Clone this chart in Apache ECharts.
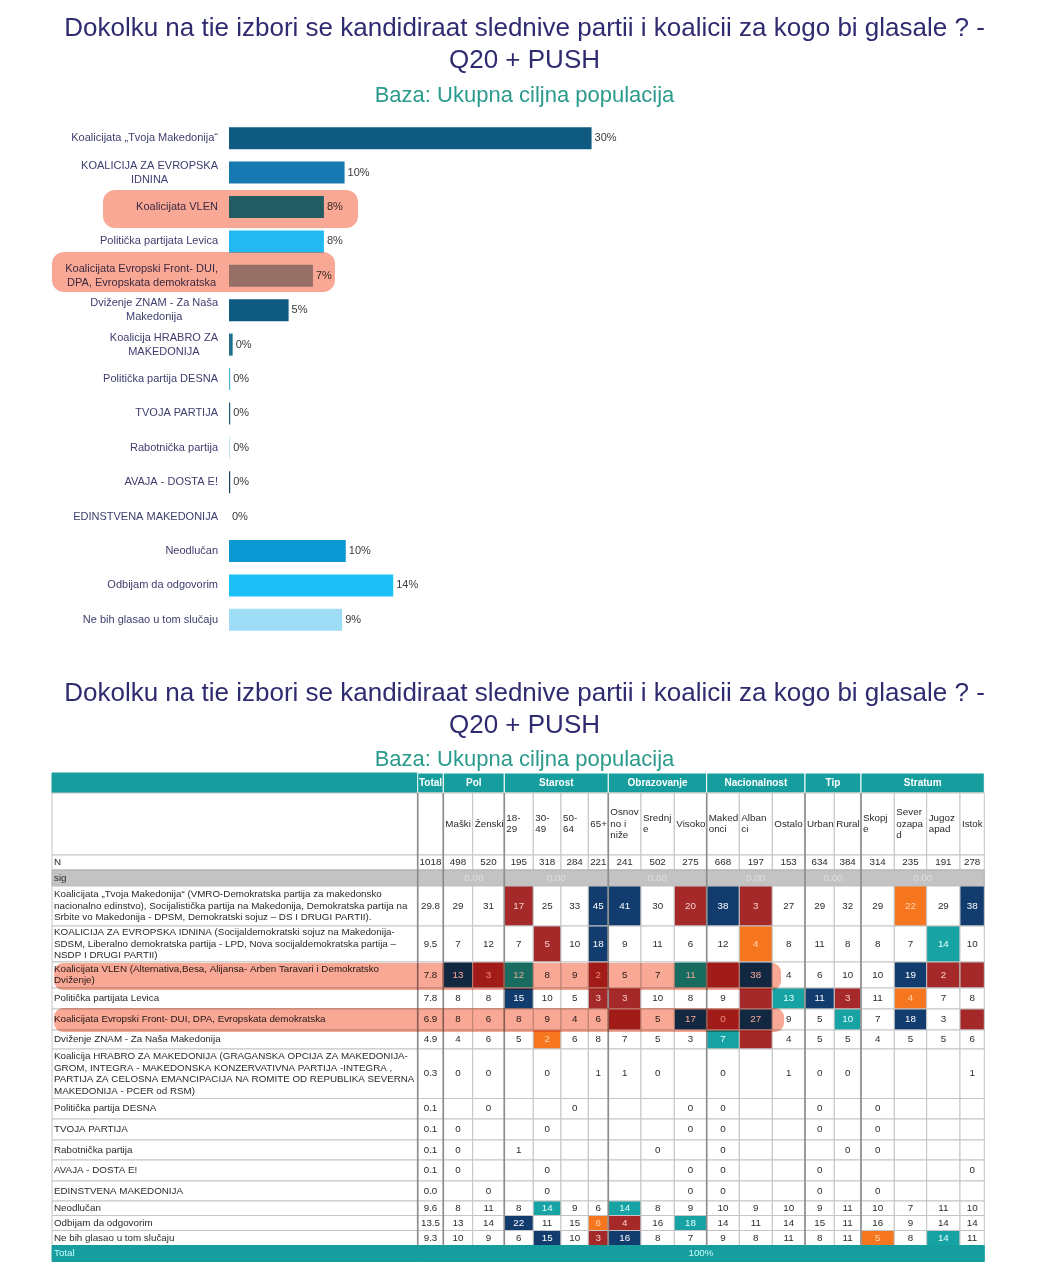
<!DOCTYPE html>
<html><head><meta charset="utf-8">
<script src="https://cdn.jsdelivr.net/npm/echarts@6/dist/echarts.min.js"></script>
<style>html,body{margin:0;padding:0;background:#fff}#c{width:1039px;height:1280px}</style>
</head><body><div id="c"></div>
<script>
// ---------- DATA ----------
const barCategories = ['Koalicijata \u201eTvoja Makedonija\u201c', 'KOALICIJA ZA EVROPSKA\nIDNINA', 'Koalicijata VLEN', 'Politička partijata Levica',
  'Koalicijata Evropski Front- DUI,\nDPA, Evropskata demokratska', 'Dviženje ZNAM - Za Naša\nMakedonija', 'Koalicija HRABRO ZA\nMAKEDONIJA',
  'Politička partija DESNA', 'TVOJA PARTIJA', 'Rabotnička partija', 'AVAJA - DOSTA E!', 'EDINSTVENA MAKEDONIJA',
  'Neodlučan', 'Odbijam da odgovorim', 'Ne bih glasao u tom slučaju'];
const totals = [29.8, 9.5, 7.8, 7.8, 6.9, 4.9, 0.3, 0.1, 0.1, 0.1, 0.1, 0.0, 9.6, 13.5, 9.3];

const rowLabels = [
  'Koalicijata \u201eTvoja Makedonija\u201c (VMRO-Demokratska partija za makedonsko\nnacionalno edinstvo), Socijalistička partija na Makedonija, Demokratska partija na\nSrbite vo Makedonija - DPSM, Demokratski sojuz \u2013 DS I DRUGI PARTII).',
  'KOALICIJA ZA EVROPSKA IDNINA (Socijaldemokratski sojuz na Makedonija-\nSDSM, Liberalno demokratska partija - LPD, Nova socijaldemokratska partija \u2013\nNSDP I DRUGI PARTII)',
  'Koalicijata VLEN (Alternativa,Besa, Alijansa- Arben Taravari i Demokratsko\nDviženje)',
  'Politička partijata Levica',
  'Koalicijata Evropski Front- DUI, DPA, Evropskata demokratska',
  'Dviženje ZNAM - Za Naša Makedonija',
  'Koalicija HRABRO ZA MAKEDONIJA (GRAGANSKA OPCIJA ZA MAKEDONIJA-\nGROM, INTEGRA - MAKEDONSKA KONZERVATIVNA PARTIJA -INTEGRA ,\nPARTIJA ZA CELOSNA EMANCIPACIJA NA ROMITE OD REPUBLIKA SEVERNA\nMAKEDONIJA - PCER od RSM)',
  'Politička partija DESNA', 'TVOJA PARTIJA', 'Rabotnička partija', 'AVAJA - DOSTA E!', 'EDINSTVENA MAKEDONIJA',
  'Neodlučan', 'Odbijam da odgovorim', 'Ne bih glasao u tom slučaju'];

const columnNames = ['Maški', 'Ženski', '18-\n29', '30-\n49', '50-\n64', '65+', 'Osnov\nno i\nniže', 'Srednj\ne', 'Visoko',
  'Maked\nonci', 'Alban\nci', 'Ostalo', 'Urban', 'Rural', 'Skopj\ne', 'Sever\nozapa\nd', 'Jugoz\napad', 'Istok'];
const groupNames = ['Pol', 'Starost', 'Obrazovanje', 'Nacionalnost', 'Tip', 'Stratum'];
const groupSizes = [2, 4, 3, 3, 2, 4];
const sampleN = [1018, 498, 520, 195, 318, 284, 221, 241, 502, 275, 668, 197, 153, 634, 384, 314, 235, 191, 278];
const sigValue = '0.00';
const totalLabel = '100%';

const _ = null;
const rowValues = [
  [29, 31, 17, 25, 33, 45, 41, 30, 20, 38, 3, 27, 29, 32, 29, 22, 29, 38],
  [7, 12, 7, 5, 10, 18, 9, 11, 6, 12, 4, 8, 11, 8, 8, 7, 14, 10],
  [13, 3, 12, 8, 9, 2, 5, 7, 11, _, 38, 4, 6, 10, 10, 19, 2, _],
  [8, 8, 15, 10, 5, 3, 3, 10, 8, 9, _, 13, 11, 3, 11, 4, 7, 8],
  [8, 6, 8, 9, 4, 6, _, 5, 17, 0, 27, 9, 5, 10, 7, 18, 3, _],
  [4, 6, 5, 2, 6, 8, 7, 5, 3, 7, _, 4, 5, 5, 4, 5, 5, 6],
  [0, 0, _, 0, _, 1, 1, 0, _, 0, _, 1, 0, 0, _, _, _, 1],
  [_, 0, _, _, 0, _, _, _, 0, 0, _, _, 0, _, 0, _, _, _],
  [0, _, _, 0, _, _, _, _, 0, 0, _, _, 0, _, 0, _, _, _],
  [0, _, 1, _, _, _, _, 0, _, 0, _, _, _, 0, 0, _, _, _],
  [0, _, _, 0, _, _, _, _, 0, 0, _, _, 0, _, _, _, _, 0],
  [_, 0, _, 0, _, _, _, _, 0, 0, _, _, 0, _, 0, _, _, _],
  [8, 11, 8, 14, 9, 6, 14, 8, 9, 10, 9, 10, 9, 11, 10, 7, 11, 10],
  [13, 14, 22, 11, 15, 6, 4, 16, 18, 14, 11, 14, 15, 11, 16, 9, 14, 14],
  [10, 9, 6, 15, 10, 3, 16, 8, 7, 9, 8, 11, 8, 11, 5, 8, 14, 11]];
// significance marks: n = significantly higher (dark), r = lower, o = lower (orange), t = higher (teal)
const rowSig = [
  '..r..nn.rnr....o.n',
  '...r.n....o.....t.',
  'nrt..r..trn....nrr',
  '..n..rr...rtnr.o..',
  '......r.nrn..t.n.r',
  '...o.....tr.......',
  '', '', '', '', '', '',
  '...t..t...........',
  '..n..or.t.........',
  '...n.rn.......o.t.'];

// ---------- LAYOUT / STYLE ----------
const FONT = '"Liberation Sans", Arial, sans-serif';
const barColors = ['#0e5a80', '#1779b2', '#238aa8', '#22b8f2', '#9aa8b0', '#0e5a80', '#1e6f8c', '#4fb7dc',
  '#1a5c75', '#c8e8f5', '#17405e', '#ffffff', '#0a97d2', '#1cc0f7', '#9fdcf6'];
const colEdges = [52, 417.7, 443.3, 472.7, 504.3, 533.3, 561, 588.3, 608.3, 641, 674.3, 706.7, 739.3, 772.3, 805, 834.3, 861, 894.3, 926.7, 960, 984.3];
const rowEdges = [773, 793, 855, 870, 886, 926, 962, 988, 1009, 1030, 1049, 1098.5, 1119, 1140, 1160, 1181, 1201, 1215.5, 1230.5, 1245.5, 1261.5];
const sigFill = { n: '#123c6e', r: '#a6292a', o: '#f5761f', t: '#17a3a3' };
const sigText = { n: '#ffffff', r: '#f6cccc', o: '#ffd6ad', t: '#e4ffff' };
const TEAL = '#169e9e';
const CELL_FONT = 9.8;

// ---------- BUILD TABLE CELLS ----------
const cells = [];
function addCell(c0, c1, r, o) {
  cells.push(Object.assign({ x0: colEdges[c0], x1: colEdges[c1], y0: rowEdges[r], y1: rowEdges[r + 1],
    fill: '#ffffff', stroke: '#c4c4c4', text: '', color: '#2a2a2a', align: 'center', size: CELL_FONT, weight: 'normal' }, o));
}
addCell(0, 1, 0, { fill: TEAL, stroke: TEAL });
addCell(1, 2, 0, { fill: TEAL, stroke: '#ffffff', text: 'Total', color: '#ffffff', weight: 'bold', size: 10 });
let gc = 2;
groupNames.forEach((g, i) => { addCell(gc, gc + groupSizes[i], 0, { fill: TEAL, stroke: '#ffffff', text: g, color: '#ffffff', weight: 'bold', size: 10 }); gc += groupSizes[i]; });
addCell(0, 1, 1, {}); addCell(1, 2, 1, {});
columnNames.forEach((n, i) => addCell(i + 2, i + 3, 1, { text: n, align: 'left' }));
addCell(0, 1, 2, { text: 'N', align: 'left' });
sampleN.forEach((v, i) => addCell(i + 1, i + 2, 2, { text: String(v) }));
addCell(0, 1, 3, { text: 'sig', align: 'left', fill: '#c3c3c3', stroke: '#b0b0b0' });
addCell(1, 2, 3, { fill: '#c3c3c3', stroke: '#b0b0b0' });
gc = 2;
groupSizes.forEach(s => { addCell(gc, gc + s, 3, { fill: '#c3c3c3', stroke: '#b0b0b0', text: sigValue, color: '#dedede' }); gc += s; });
rowLabels.forEach((lab, r) => {
  addCell(0, 1, 4 + r, { text: lab, align: 'left' });
  addCell(1, 2, 4 + r, { text: totals[r].toFixed(1) });
  rowValues[r].forEach((v, i) => {
    const s = rowSig[r][i];
    const o = { text: v == null ? '' : String(v) };
    if (s && s !== '.') { o.fill = sigFill[s]; o.color = sigText[s]; }
    addCell(i + 2, i + 3, 4 + r, o);
  });
});
addCell(0, 1, 19, { fill: TEAL, stroke: TEAL, text: 'Total', align: 'left', color: '#c8ffff' });
addCell(1, 20, 19, { fill: TEAL, stroke: TEAL, text: totalLabel, color: '#c8ffff' });

const groupLines = [1, 2, 4, 8, 11, 14, 16];

function renderCell(params, api) {
  const c = cells[params.dataIndex];
  const p0 = api.coord([c.x0, c.y0]), p1 = api.coord([c.x1, c.y1]);
  const x = p0[0], y = p0[1], w = p1[0] - p0[0], h = p1[1] - p0[1];
  const ch = [{ type: 'rect', shape: { x: x, y: y, width: w, height: h }, style: { fill: c.fill, stroke: c.stroke, lineWidth: 1 } }];
  if (c.text !== '') {
    ch.push({ type: 'text', style: {
      x: c.align === 'left' ? x + 2 : x + w / 2, y: y + h / 2, text: c.text,
      fill: c.color, fontSize: c.size, fontFamily: FONT, fontWeight: c.weight, lineHeight: 11.5,
      align: c.align, verticalAlign: 'middle', textAlign: c.align, textVerticalAlign: 'middle' } });
  }
  return { type: 'group', children: ch };
}
function renderLine(params, api) {
  const x = colEdges[groupLines[params.dataIndex]];
  const top = api.coord([x, rowEdges[1]]), bot = api.coord([x, rowEdges[19]]);
  return { type: 'line', shape: { x1: top[0], y1: top[1], x2: bot[0], y2: bot[1] }, style: { stroke: '#8c8c8c', lineWidth: 1.6 } };
}

const chart = echarts.init(document.getElementById('c'), null, { renderer: 'canvas' });
const titleStyle = { fontSize: 26, color: '#2f2b70', fontWeight: 'normal', fontFamily: FONT, lineHeight: 32 };
const subStyle = { fontSize: 22, color: '#2a9a8c', fontWeight: 'normal', fontFamily: FONT };
const titleText = 'Dokolku na tie izbori se kandidiraat slednive partii i koalicii za kogo bi glasale ? -\nQ20 + PUSH';
const subText = 'Baza: Ukupna ciljna populacija';
const HL = 'rgba(246,146,122,0.8)';

chart.setOption({
  backgroundColor: '#ffffff',
  animation: false,
  title: [
    { text: titleText, left: 519.5, textAlign: 'center', top: 8, textStyle: titleStyle },
    { text: subText, left: 519.5, textAlign: 'center', top: 80, textStyle: subStyle },
    { text: titleText, left: 519.5, textAlign: 'center', top: 673, textStyle: titleStyle },
    { text: subText, left: 519.5, textAlign: 'center', top: 744, textStyle: subStyle }
  ],
  grid: [
    { left: 229, top: 121, width: 365, height: 516 },
    { left: 52, top: 773, width: 932.3, height: 489 }
  ],
  xAxis: [
    { gridIndex: 0, type: 'value', min: 0, max: 30, show: false },
    { gridIndex: 1, type: 'value', min: 52, max: 984.3, show: false }
  ],
  yAxis: [
    { gridIndex: 0, type: 'category', data: barCategories, inverse: true,
      axisLine: { show: false }, axisTick: { show: false },
      axisLabel: { margin: 11, fontSize: 11, color: '#3d3d6e', fontFamily: FONT, lineHeight: 14,
        formatter: v => v.split('\n').map(l => '{c|' + l + '}').join('\n'),
        rich: { c: { align: 'center', fontSize: 11, color: '#3d3d6e', fontFamily: FONT, lineHeight: 14 } } } },
    { gridIndex: 1, type: 'value', min: 773, max: 1262, inverse: true, show: false }
  ],
  series: [
    { type: 'bar', xAxisIndex: 0, yAxisIndex: 0, barWidth: 22,
      data: totals.map((v, i) => ({ value: v, itemStyle: { color: barColors[i] } })),
      label: { show: true, position: 'right', distance: 3, fontSize: 11, color: '#3a3a3a', fontFamily: FONT,
        formatter: p => Math.round(p.value) + '%' } },
    { type: 'custom', xAxisIndex: 1, yAxisIndex: 1, renderItem: renderCell, clip: false,
      data: cells.map(c => [c.x0, c.y0, c.x1, c.y1]) },
    { type: 'custom', xAxisIndex: 1, yAxisIndex: 1, renderItem: renderLine, clip: false,
      data: groupLines.map(i => [colEdges[i], rowEdges[1]]) }
  ],
  graphic: [
    { type: 'rect', z: 100, shape: { x: 103, y: 190, width: 255, height: 38, r: 12 }, style: { fill: HL, blend: 'multiply' } },
    { type: 'rect', z: 100, shape: { x: 52, y: 252, width: 283, height: 40, r: 12 }, style: { fill: HL, blend: 'multiply' } },
    { type: 'rect', z: 100, shape: { x: 54, y: 963, width: 727, height: 27, r: 9 }, style: { fill: HL, blend: 'multiply' } },
    { type: 'rect', z: 100, shape: { x: 54, y: 1008, width: 730, height: 24, r: 9 }, style: { fill: HL, blend: 'multiply' } }
  ]
});
</script></body></html>
